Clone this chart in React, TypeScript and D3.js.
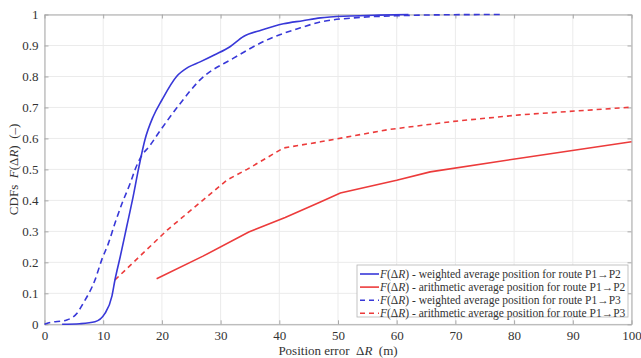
import React, { useEffect, useRef } from 'react';
import * as d3 from 'd3';

// P1->P2 weighted average (blue solid)
const wP2X = [3, 6, 8.6, 10.3, 11.5, 12, 12.9, 14, 15.1, 16, 17.1, 18.5, 20, 22.5, 24.5, 26.5, 29, 31.6, 33.9, 37, 40.7, 44, 47, 52, 57, 62];
const wP2Y = [0, 0.002, 0.008, 0.035, 0.092, 0.143, 0.218, 0.315, 0.412, 0.5, 0.595, 0.67, 0.724, 0.8, 0.83, 0.847, 0.87, 0.896, 0.929, 0.95, 0.97, 0.98, 0.989, 0.995, 0.998, 1.0];

// P1->P2 arithmetic average (red solid)
const aP2X = [19.1, 27, 34.8, 41, 47, 50.4, 60, 65.7, 81, 100];
const aP2Y = [0.147, 0.22, 0.298, 0.345, 0.395, 0.424, 0.465, 0.492, 0.536, 0.589];

// P1->P3 weighted average (blue dashed)
const wP3X = [0, 0.6, 3.8, 5.5, 6.6, 8.6, 9.75, 10.9, 12, 13.2, 14.6, 15.4, 16.3, 18, 19.7, 23, 26.5, 32.2, 37.9, 43.6, 47, 52.6, 60, 68, 77.7];
const wP3Y = [0, 0.004, 0.014, 0.035, 0.068, 0.143, 0.208, 0.262, 0.326, 0.39, 0.455, 0.498, 0.536, 0.578, 0.625, 0.71, 0.789, 0.859, 0.918, 0.957, 0.976, 0.989, 0.996, 0.999, 1.0];

// P1->P3 arithmetic average (red dashed)
const aP3X = [12, 20.9, 31.1, 34.5, 40.7, 47, 58.4, 69.7, 81, 100];
const aP3Y = [0.143, 0.304, 0.466, 0.5, 0.569, 0.589, 0.628, 0.655, 0.676, 0.701];

const xTicks = [0, 10, 20, 30, 40, 50, 60, 70, 80, 90, 100];
const yTicks = [0, 0.1, 0.2, 0.3, 0.4, 0.5, 0.6, 0.7, 0.8, 0.9, 1];

const legendLabels = [
  'weighted average position for route P1→P2',
  'arithmetic average position for route P1→P2',
  'weighted average position for route P1→P3',
  'arithmetic average position for route P1→P3',
];

const BLUE = '#3838d8';
const RED = '#ec3b3b';

const App: React.FC = () => {
  const ref = useRef<SVGSVGElement | null>(null);

  useEffect(() => {
    const svg = d3.select(ref.current);
    svg.selectAll('*').remove();

    const width = 641;
    const height = 358;
    const margin = { top: 14.5, right: 9.5, bottom: 33.7, left: 44.5 };
    const font = 'Liberation Serif';

    const x = d3.scaleLinear().domain([0, 100]).range([margin.left, width - margin.right]);
    const y = d3.scaleLinear().domain([0, 1]).range([height - margin.bottom, margin.top]);

    svg.append('rect').attr('width', width).attr('height', height).attr('fill', '#fff');

    // grid
    const grid = svg.append('g');
    grid.selectAll('.gx').data(xTicks).enter().append('line')
      .attr('x1', d => x(d)).attr('x2', d => x(d))
      .attr('y1', y(0)).attr('y2', y(1))
      .attr('stroke', '#ebebeb').attr('stroke-width', 1);
    grid.selectAll('.gy').data(yTicks).enter().append('line')
      .attr('x1', x(0)).attr('x2', x(100))
      .attr('y1', d => y(d)).attr('y2', d => y(d))
      .attr('stroke', '#ebebeb').attr('stroke-width', 1);

    // axes
    const styleAxis = (g: d3.Selection<SVGGElement, unknown, null, undefined>) => {
      g.attr('font-family', null).attr('font-size', null);
      g.select('.domain').attr('stroke', '#a8a8a8');
      g.selectAll('.tick line').attr('stroke', '#a8a8a8');
      g.selectAll('.tick text').attr('fill', '#333')
        .style('font-family', font).style('font-size', '13px');
    };

    const gx = svg.append('g')
      .attr('transform', `translate(0,${y(0)})`)
      .call(d3.axisBottom(x).tickValues(xTicks).tickSize(-4).tickSizeOuter(0).tickPadding(6));
    styleAxis(gx);
    const gxt = svg.append('g')
      .attr('transform', `translate(0,${y(1)})`)
      .call(d3.axisTop(x).tickValues(xTicks).tickSize(-4).tickSizeOuter(0).tickFormat(() => ''));
    styleAxis(gxt);
    const gy = svg.append('g')
      .attr('transform', `translate(${x(0)},0)`)
      .call(d3.axisLeft(y).tickValues(yTicks).tickSize(-4).tickSizeOuter(0).tickPadding(6).tickFormat(d => String(d)));
    styleAxis(gy);
    const gyr = svg.append('g')
      .attr('transform', `translate(${x(100)},0)`)
      .call(d3.axisRight(y).tickValues(yTicks).tickSize(-4).tickSizeOuter(0).tickFormat(() => ''));
    styleAxis(gyr);

    // lines
    const series = [
      { xs: wP2X, ys: wP2Y, color: BLUE, dash: null, curve: d3.curveMonotoneX },
      { xs: aP2X, ys: aP2Y, color: RED, dash: null, curve: d3.curveLinear },
      { xs: wP3X, ys: wP3Y, color: BLUE, dash: '6,4', curve: d3.curveMonotoneX },
      { xs: aP3X, ys: aP3Y, color: RED, dash: '5,4', curve: d3.curveLinear },
    ];
    [1, 3, 2, 0].forEach(i => {
      const s = series[i];
      const pts: [number, number][] = s.xs.map((v, k) => [v, s.ys[k]]);
      const line = d3.line<[number, number]>().x(d => x(d[0])).y(d => y(d[1])).curve(s.curve);
      svg.append('path')
        .attr('d', line(pts))
        .attr('fill', 'none')
        .attr('stroke', s.color)
        .attr('stroke-width', 1.6)
        .attr('stroke-dasharray', s.dash);
    });

    // axis labels
    const xl = svg.append('text')
      .attr('x', (x(0) + x(100)) / 2).attr('y', 355)
      .attr('text-anchor', 'middle')
      .style('font-family', font).style('font-size', '13px').attr('fill', '#333');
    xl.append('tspan').text('Position error\u00a0\u00a0Δ');
    xl.append('tspan').attr('font-style', 'italic').text('R');
    xl.append('tspan').text('\u00a0\u00a0(m)');

    const yl = svg.append('text')
      .attr('transform', `translate(18,${(y(0) + y(1)) / 2}) rotate(-90)`)
      .attr('text-anchor', 'middle')
      .style('font-family', font).style('font-size', '13px').attr('fill', '#333');
    yl.append('tspan').text('CDFs\u00a0\u00a0');
    yl.append('tspan').attr('font-style', 'italic').text('F');
    yl.append('tspan').text('(Δ');
    yl.append('tspan').attr('font-style', 'italic').text('R');
    yl.append('tspan').text(')\u00a0\u00a0(–)');

    // legend
    const lg = svg.append('g').attr('transform', 'translate(357,265)');
    lg.append('rect').attr('width', 271).attr('height', 52)
      .attr('fill', '#fff').attr('stroke', '#b5b5b5').attr('stroke-width', 0.8);
    legendLabels.forEach((lab, i) => {
      const s = series[i];
      const cy = 9 + i * 13.1;
      lg.append('line')
        .attr('x1', 3).attr('x2', 22).attr('y1', cy).attr('y2', cy)
        .attr('stroke', s.color).attr('stroke-width', 1.6)
        .attr('stroke-dasharray', s.dash ? '5,4' : null);
      const t = lg.append('text')
        .attr('x', 23).attr('y', cy + 4)
        .style('font-family', font).style('font-size', '11.5px').attr('fill', '#333');
      t.append('tspan').attr('font-style', 'italic').text('F');
      t.append('tspan').text('(Δ');
      t.append('tspan').attr('font-style', 'italic').text('R');
      t.append('tspan').text(') - ' + lab);
    });
  }, []);

  return (
    <svg ref={ref} width={641} height={358} style={{ position: 'absolute', left: 0, top: 0 }} />
  );
};

export default App;
